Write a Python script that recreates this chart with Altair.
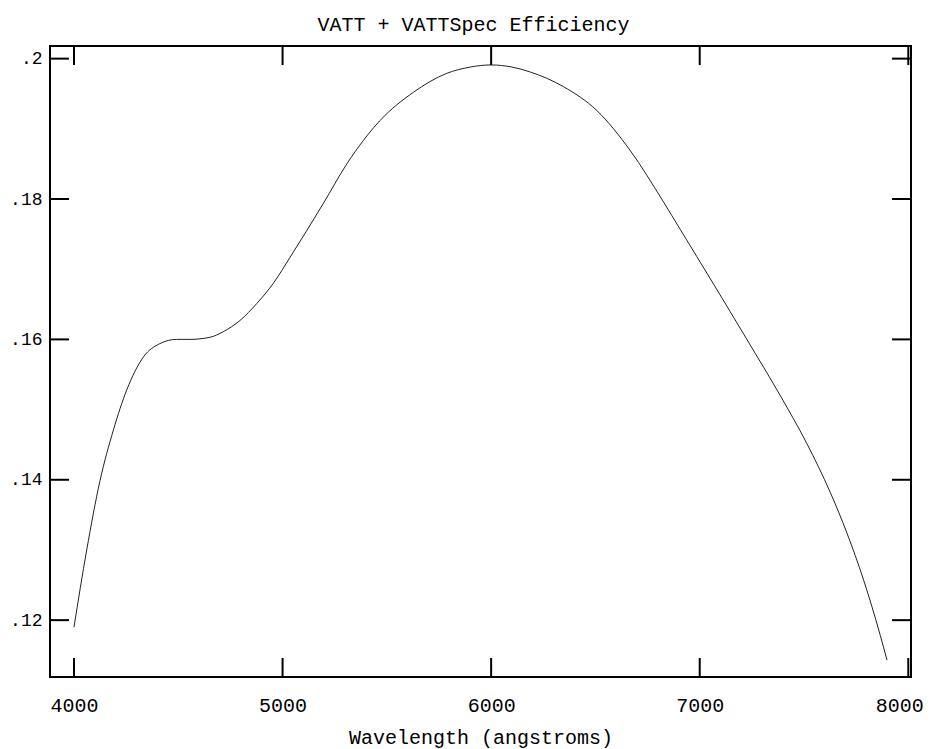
import altair as alt
import pandas as pd

wavelength = [4000, 4061, 4125, 4189, 4253, 4333, 4412, 4492, 4556, 4652, 4716, 4796,
              4876, 4956, 5036, 5116, 5196, 5308, 5468, 5627, 5787, 5900, 6000, 6100,
              6187, 6347, 6507, 6667, 6826, 6906, 6986, 7066, 7226, 7386, 7513, 7626,
              7706, 7786, 7866, 7898]
efficiency = [0.1190, 0.1300, 0.1399, 0.1471, 0.1528, 0.1575, 0.1594, 0.1600, 0.1600,
              0.1603, 0.1611, 0.1627, 0.1651, 0.1680, 0.1717, 0.1755, 0.1794, 0.1850,
              0.1912, 0.1952, 0.1979, 0.1988, 0.1991, 0.1988, 0.1981, 0.1960, 0.1926,
              0.1869, 0.1796, 0.1757, 0.1718, 0.1679, 0.1600, 0.1520, 0.1452, 0.1382,
              0.1324, 0.1257, 0.1178, 0.1143]
x_ticks = [4000, 5000, 6000, 7000, 8000]
y_ticks = [0.12, 0.14, 0.16, 0.18, 0.2]

W, H = 861, 631
TL = 19
FONT = "Liberation Mono"

df = pd.DataFrame({"w": wavelength, "v": efficiency})
dx = pd.DataFrame({"w": x_ticks})
dy = pd.DataFrame({"v": y_ticks})

xs = alt.Scale(domain=[3885, 8013], nice=False, zero=False)
ys = alt.Scale(domain=[0.1119, 0.2018], nice=False, zero=False)

x_enc = alt.X("w:Q", scale=xs, title="Wavelength (angstroms)",
              axis=alt.Axis(values=x_ticks, format="d", labelPadding=18, titlePadding=12,
                            labelOffset=alt.condition("datum.value == 8000",
                                                      alt.value(-9), alt.value(0))))
y_enc = alt.Y("v:Q", scale=ys, title=None,
              axis=alt.Axis(values=y_ticks, labelPadding=8, labelFontSize=18,
                            labelExpr="replace(format(datum.value, '.2~f'), '0.', '.')"))

line = alt.Chart(df).mark_line(color="#222222", strokeWidth=1, interpolate="monotone").encode(
    x=x_enc, y=y_enc)

rule_style = dict(color="black", strokeWidth=2)
top = alt.Chart(dx).mark_rule(**rule_style).encode(
    x=x_enc, y=alt.value(0), y2=alt.value(TL))
bottom = alt.Chart(dx).mark_rule(**rule_style).encode(
    x=x_enc, y=alt.value(H - TL), y2=alt.value(H))
left = alt.Chart(dy).mark_rule(**rule_style).encode(
    y=y_enc, x=alt.value(0), x2=alt.value(TL))
right = alt.Chart(dy).mark_rule(**rule_style).encode(
    y=y_enc, x=alt.value(W - TL), x2=alt.value(W))

chart = alt.layer(line, top, bottom, left, right).properties(
    width=W, height=H,
    title=alt.TitleParams("VATT + VATTSpec Efficiency", font=FONT, fontSize=20,
                          fontWeight="normal", color="black", offset=10, dx=-7),
    autosize=alt.AutoSizeParams(type="none"),
    padding={"left": 42, "top": 38, "right": 14, "bottom": 76},
).configure_view(
    stroke="black", strokeWidth=2
).configure_axis(
    domain=False, ticks=False, grid=False,
    labelFont=FONT, labelFontSize=20, labelColor="black",
    titleFont=FONT, titleFontSize=20, titleFontWeight="normal", titleColor="black",
)

chart.save("out.html", embed_options={"renderer": "svg", "actions": False})
